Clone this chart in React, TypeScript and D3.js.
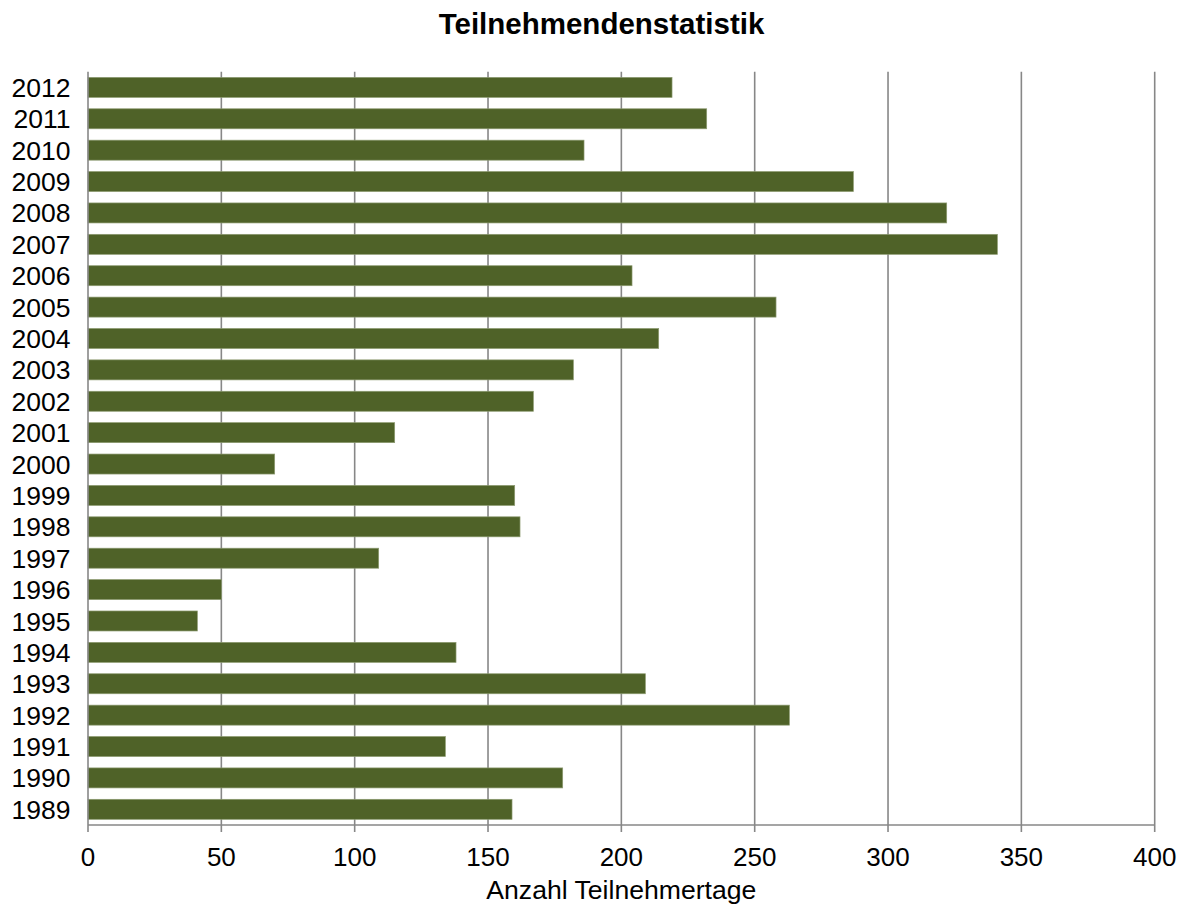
import React from "react";
import * as d3 from "d3";

const years = [
  "2012", "2011", "2010", "2009", "2008", "2007", "2006", "2005", "2004", "2003", "2002", "2001",
  "2000", "1999", "1998", "1997", "1996", "1995", "1994", "1993", "1992", "1991", "1990", "1989",
];
const values = [
  219, 232, 186, 287, 322, 341, 204, 258, 214, 182, 167, 115,
  70, 160, 162, 109, 50, 41, 138, 209, 263, 134, 178, 159,
];
const xTicks = [0, 50, 100, 150, 200, 250, 300, 350, 400];
const title = "Teilnehmendenstatistik";
const xTitle = "Anzahl Teilnehmertage";

const W = 1184;
const H = 907;
const left = 88;
const right = 1154.7;
const top = 71.7;
const bottom = 825;
const font = "Arial, 'Liberation Sans', Helvetica, sans-serif";

export default function App() {
  const x = d3.scaleLinear().domain([0, 400]).range([left, right]);
  const y = d3
    .scaleBand<string>()
    .domain(years)
    .range([top, bottom])
    .paddingInner(0.363)
    .paddingOuter(0.1815);
  const grid = "#878787";
  return (
    <svg
      width={W}
      height={H}
      style={{ position: "absolute", left: 0, top: 0, background: "#fff" }}
      fontFamily={font}
    >
      <rect x={0} y={0} width={W} height={H} fill="#fff" />
      {xTicks
        .filter((t) => t > 0)
        .map((t) => (
          <line key={"g" + t} x1={x(t)} x2={x(t)} y1={top} y2={bottom} stroke={grid} strokeWidth={1.6} />
        ))}
      {years.map((yr, i) => (
        <rect
          key={yr}
          x={x(0)}
          y={y(yr)}
          width={x(values[i]) - x(0)}
          height={y.bandwidth()}
          fill="#4F6228"
          stroke="#8c9a70"
          strokeWidth={0.7}
        />
      ))}
      <line x1={left} x2={left} y1={top} y2={bottom} stroke={grid} strokeWidth={1.6} />
      <line x1={left} x2={right} y1={bottom} y2={bottom} stroke={grid} strokeWidth={1.6} />
      {xTicks.map((t) => (
        <g key={"t" + t}>
          <line x1={x(t)} x2={x(t)} y1={bottom} y2={bottom + 7} stroke={grid} strokeWidth={1.6} />
          <text x={x(t)} y={866} textAnchor="middle" fontSize={26} fill="#000">
            {t}
          </text>
        </g>
      ))}
      {years.map((yr) => (
        <text
          key={"l" + yr}
          x={70.5}
          y={(y(yr) as number) + y.bandwidth() / 2}
          dy="0.36em"
          textAnchor="end"
          fontSize={26.5}
          fill="#000"
        >
          {yr}
        </text>
      ))}
      <text x={601.5} y={34} textAnchor="middle" fontSize={29.5} fontWeight="bold" fill="#000">
        {title}
      </text>
      <text x={(left + right) / 2} y={899} textAnchor="middle" fontSize={26.6} fill="#000">
        {xTitle}
      </text>
    </svg>
  );
}
